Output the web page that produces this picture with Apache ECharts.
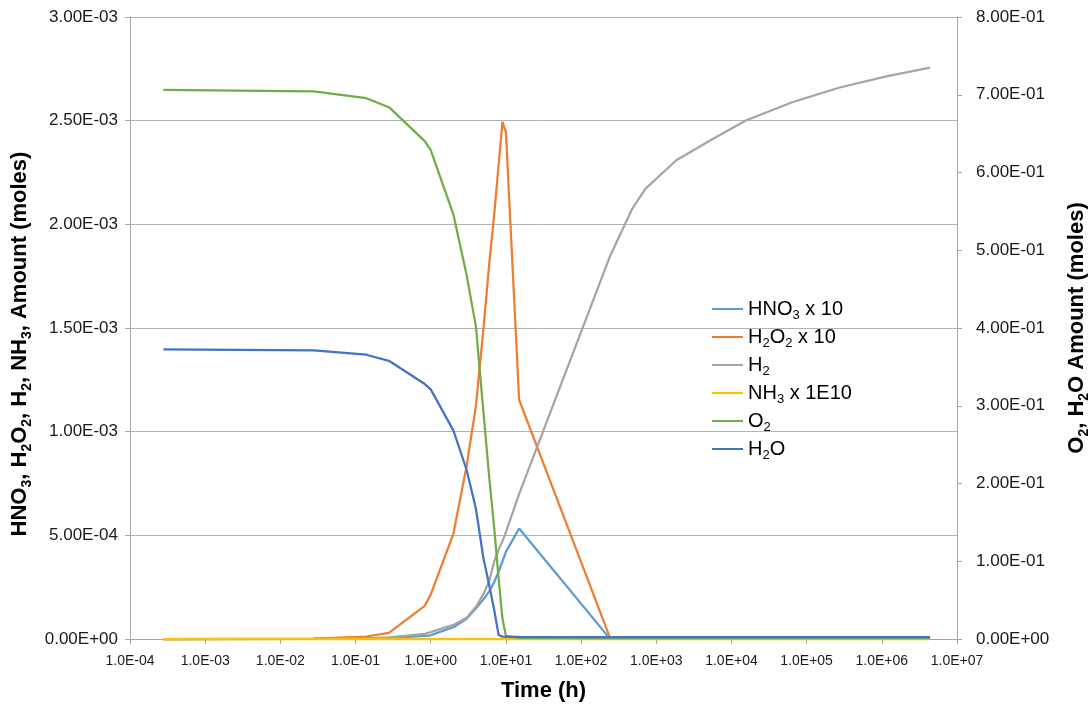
<!DOCTYPE html>
<html><head><meta charset="utf-8">
<script src="https://cdn.jsdelivr.net/npm/echarts@6/dist/echarts.min.js"></script>
<style>html,body{margin:0;padding:0;background:#fff}#c{width:1091px;height:705px}</style>
</head><body><div id="c"></div>
<script>
// time in hours
const times = [2.78e-4, 2.78e-2, 0.139, 0.278, 0.833, 1, 2, 3, 4, 5, 6, 7, 8, 9, 10, 15, 240, 480, 720, 1850, 5700, 15800, 65800, 275000, 1150000, 4380000];
// left axis (moles)
const hno3x10 = [0, 0.5e-6, 2e-6, 5e-6, 15e-6, 18e-6, 57e-6, 98e-6, 148e-6, 190e-6, 230e-6, 275e-6, 325e-6, 375e-6, 420e-6, 533e-6, 3e-6, 2e-6, 2e-6, 2e-6, 2e-6, 2e-6, 2e-6, 2e-6, 2e-6, 2e-6];
const h2o2x10 = [0, 2e-6, 12e-6, 30e-6, 160e-6, 214e-6, 507e-6, 834e-6, 1127e-6, 1489e-6, 1810e-6, 2050e-6, 2287e-6, 2494e-6, 2445e-6, 1153e-6, 10e-6, 3e-6, 3e-6, 3e-6, 3e-6, 3e-6, 3e-6, 3e-6, 3e-6, 3e-6];
const h2 = [0, 1e-6, 4e-6, 8e-6, 25e-6, 33e-6, 68e-6, 103e-6, 155e-6, 215e-6, 280e-6, 375e-6, 430e-6, 472e-6, 515e-6, 700e-6, 1842e-6, 2076e-6, 2172e-6, 2309e-6, 2413e-6, 2502e-6, 2590e-6, 2660e-6, 2714e-6, 2756e-6];
const nh3x1e10 = [0, 0, 0, 0, 0, 0, 0, 0, 0, 0, 0, 0, 0, 0, 0, 0, 0, 0, 0, 0, 0, 0, 0, 0, 0, 0];
// right axis (moles)
const o2 = [0.7064, 0.7042, 0.6956, 0.684, 0.6403, 0.6289, 0.5462, 0.4681, 0.4015, 0.294, 0.208, 0.142, 0.078, 0.026, 0.004, 0.0015, 0.001, 0.001, 0.001, 0.001, 0.001, 0.001, 0.001, 0.001, 0.001, 0.001];
const h2o = [0.3724, 0.3711, 0.3656, 0.3578, 0.3279, 0.3211, 0.2683, 0.2177, 0.1672, 0.105, 0.069, 0.037, 0.005, 0.003, 0.0027, 0.0026, 0.0025, 0.0025, 0.0025, 0.0025, 0.0025, 0.0025, 0.0025, 0.0025, 0.0025, 0.0025];

const seriesNames = ['HNO3 x 10', 'H2O2 x 10', 'H2', 'NH3 x 1E10', 'O2', 'H2O'];
const seriesRich = ['{a|HNO}{s|3}{a| x 10}', '{a|H}{s|2}{a|O}{s|2}{a| x 10}', '{a|H}{s|2}', '{a|NH}{s|3}{a| x 1E10}', '{a|O}{s|2}', '{a|H}{s|2}{a|O}'];
const seriesColors = ['#5B9BD5', '#ED7D31', '#A5A5A5', '#FFC000', '#70AD47', '#4472C4'];
const seriesValues = [hno3x10, h2o2x10, h2, nh3x1e10, o2, h2o];
const seriesAxis = [0, 0, 0, 0, 1, 1];

const FONT = '"Liberation Sans", Arial, sans-serif';

function pad2(n){ return (n < 10 ? '0' : '') + n; }
function sci(v, d){
  if (Math.abs(v) < 1e-15) return (0).toFixed(d) + 'E+00';
  let e = Math.floor(Math.log10(Math.abs(v)) + 1e-9);
  let m = v / Math.pow(10, e);
  let ms = m.toFixed(d);
  if (Math.abs(parseFloat(ms)) >= 10) { e += 1; ms = (v / Math.pow(10, e)).toFixed(d); }
  return ms + 'E' + (e < 0 ? '-' : '+') + pad2(Math.abs(e));
}
function logLabel(v){
  const e = Math.round(Math.log10(v));
  return '1.0E' + (e < 0 ? '-' : '+') + pad2(Math.abs(e));
}

const chart = echarts.init(document.getElementById('c'), null, {renderer: 'canvas'});
const axisGray = '#a6a6a6';
const richTitle = {
  a: {fontSize: 22, fontWeight: 'bold', fontFamily: FONT, color: '#000', lineHeight: 28},
  s: {fontSize: 14, fontWeight: 'bold', fontFamily: FONT, color: '#000', lineHeight: 14, verticalAlign: 'bottom'}
};

chart.setOption({
  animation: false,
  backgroundColor: '#fff',
  grid: {left: 130, right: 134, top: 17, bottom: 66, containLabel: false, outerBoundsMode: 'none'},
  legend: {
    orient: 'vertical', left: 707, top: 294, itemGap: 5,
    itemWidth: 31, itemHeight: 2, icon: 'rect',
    data: seriesNames,
    formatter: function(name){ return seriesRich[seriesNames.indexOf(name)]; },
    textStyle: {
      fontFamily: FONT,
      rich: {
        a: {fontSize: 20, fontFamily: FONT, color: '#000', lineHeight: 26},
        s: {fontSize: 13, fontFamily: FONT, color: '#000', lineHeight: 13, verticalAlign: 'bottom'}
      }
    }
  },
  xAxis: {
    type: 'log', logBase: 10, min: 1e-4, max: 1e7, interval: 1, splitNumber: 11,
    name: '{a|Time (h)}', nameLocation: 'middle', nameGap: 38,
    nameTextStyle: {rich: richTitle},
    axisLine: {show: true, lineStyle: {color: axisGray, width: 1}},
    axisTick: {show: true, length: 5, inside: false, lineStyle: {color: axisGray}},
    minorTick: {show: false},
    splitLine: {show: false},
    axisLabel: {formatter: logLabel, fontSize: 14, fontFamily: FONT, color: '#1a1a1a', margin: 15}
  },
  yAxis: [{
    type: 'value', min: 0, max: 3e-3, interval: 5e-4, position: 'left',
    name: '{a|HNO}{s|3}{a|, H}{s|2}{a|O}{s|2}{a|, H}{s|2}{a|, NH}{s|3}{a|, Amount (moles)}',
    nameLocation: 'middle', nameRotate: 90, nameGap: 92,
    nameTextStyle: {rich: richTitle, padding: [0, 32, 0, 0]},
    axisLine: {show: true, lineStyle: {color: axisGray, width: 1}},
    axisTick: {show: true, length: 5, lineStyle: {color: axisGray}},
    splitLine: {show: true, lineStyle: {color: '#b3b3b3', width: 1}},
    axisLabel: {formatter: function(v){ return sci(v, 2); }, fontSize: 17, fontFamily: FONT, color: '#1a1a1a', margin: 12}
  }, {
    type: 'value', min: 0, max: 0.8, interval: 0.1, position: 'right',
    name: '{a|O}{s|2}{a|, H}{s|2}{a|O Amount (moles)}',
    nameLocation: 'middle', nameRotate: 90, nameGap: 106,
    nameTextStyle: {rich: richTitle},
    axisLine: {show: true, lineStyle: {color: axisGray, width: 1}},
    axisTick: {show: true, length: 5, lineStyle: {color: axisGray}},
    splitLine: {show: false},
    axisLabel: {formatter: function(v){ return sci(v, 2); }, fontSize: 17, fontFamily: FONT, color: '#1a1a1a', margin: 19}
  }],
  series: seriesNames.map(function(name, i){
    return {
      name: name, type: 'line', yAxisIndex: seriesAxis[i],
      data: times.map(function(t, j){ return [t, seriesValues[i][j]]; }),
      symbol: 'none', showSymbol: false, clip: false,
      lineStyle: {color: seriesColors[i], width: 2.25},
      itemStyle: {color: seriesColors[i]},
      emphasis: {disabled: true}
    };
  })
});
</script>
</body></html>
